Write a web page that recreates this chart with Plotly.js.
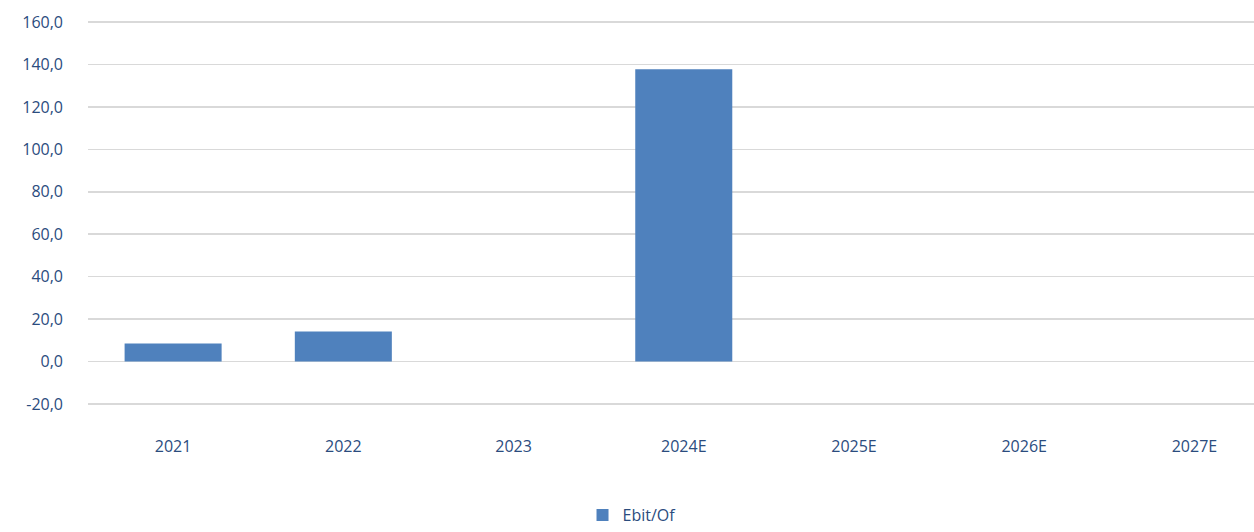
<!DOCTYPE html>
<html>
<head>
<meta charset="utf-8">
<script src="https://cdn.plot.ly/plotly-3.0.1.min.js"></script>
<style>html,body{margin:0;padding:0;background:#fff;}#chart{width:1254px;height:532px;}</style>
</head>
<body>
<div id="chart"></div>
<script>
const categories = ["2021", "2022", "2023", "2024E", "2025E", "2026E", "2027E"];
const ebitOf = [8.5, 14.2, null, 137.7, null, null, null];
const seriesName = "Ebit/Of";
const yTickVals = [-20, 0, 20, 40, 60, 80, 100, 120, 140, 160];
const yTickText = ["-20,0", "0,0", "20,0", "40,0", "60,0", "80,0", "100,0", "120,0", "140,0", "160,0"];

const textColor = "#2B4C7E";
const data = [{
  type: "bar",
  x: categories,
  y: ebitOf,
  name: seriesName,
  marker: {color: "#4F81BD"},
  showlegend: true
}];
const layout = {
  width: 1254, height: 532,
  margin: {l: 88, r: 0, t: 21, b: 127},
  paper_bgcolor: "#fff", plot_bgcolor: "#fff",
  font: {family: "Open Sans, Liberation Sans, sans-serif", size: 16, color: textColor},
  bargap: 0.43,
  separators: ",.",
  xaxis: {
    type: "category",
    range: [-0.5, 6.35],
    showgrid: false, zeroline: false, showline: false,
    ticks: "", tickfont: {size: 16, color: textColor},
    ticklabelstandoff: 30
  },
  yaxis: {
    range: [-20.5, 160.5],
    tickvals: yTickVals, ticktext: yTickText,
    showgrid: true, gridcolor: "#D9D9D9", gridwidth: 1.5,
    zeroline: false, showline: false, ticks: "",
    tickfont: {size: 16, color: textColor},
    ticklabelstandoff: 24
  },
  showlegend: true,
  legend: {
    orientation: "h", xref: "container", yref: "container",
    x: 0.504, xanchor: "center", y: -0.018, yanchor: "bottom",
    font: {size: 16, color: textColor}
  }
};
Plotly.newPlot("chart", data, layout, {displayModeBar: false, staticPlot: true});
</script>
</body>
</html>
